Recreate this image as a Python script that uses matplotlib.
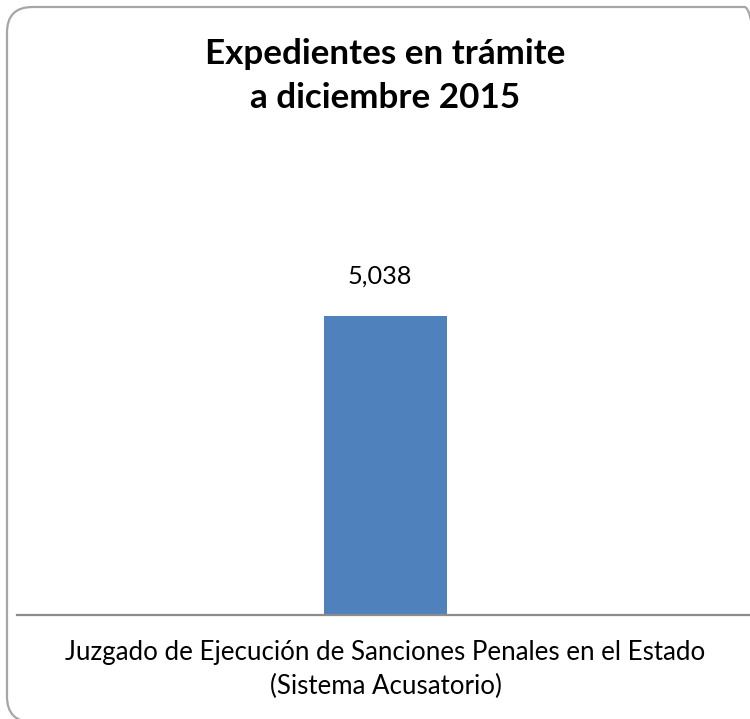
import matplotlib
matplotlib.use("Agg")
import matplotlib.pyplot as plt
from matplotlib.patches import FancyBboxPatch

categories = ["Juzgado de Ejecución de Sanciones Penales en el Estado\n(Sistema Acusatorio)"]
values = [5038]
value_labels = ["5,038"]
title = "Expedientes en trámite\na diciembre 2015"

W, H = 750, 719
fig = plt.figure(figsize=(W / 100, H / 100), dpi=100)
plt.rcParams['font.family'] = ['Lato', 'DejaVu Sans']

# rounded border
box = FancyBboxPatch((7 / W, 1 - 722 / H), (770 - 7) / W, (722 - 7) / H,
                     boxstyle="round,pad=0,rounding_size=0.034",
                     transform=fig.transFigure, facecolor="none",
                     edgecolor="#a6a6a6", linewidth=1.6, mutation_aspect=W / H,
                     zorder=-1)
fig.patches.append(box)

ax = fig.add_axes([17 / W, 1 - 615 / H, 737 / W, 355.5 / H])
ax.set_facecolor("none")
bars = ax.bar(range(len(values)), values, width=0.167, color="#4f81bd", zorder=2)
ax.set_xlim(-0.5, len(values) - 0.5)
ax.set_ylim(0, 6000)
for s in ["left", "right", "top"]:
    ax.spines[s].set_visible(False)
ax.spines["bottom"].set_color("#8c8c8c")
ax.spines["bottom"].set_linewidth(1.6)
ax.set_yticks([])
ax.set_xticks(range(len(categories)))
ax.set_xticklabels(categories, fontsize=18.6, linespacing=1.42)
ax.tick_params(axis="x", length=0, pad=18)

for i, (v, lab) in enumerate(zip(values, value_labels)):
    ax.annotate(lab, (i, v), xytext=(-4, 29), textcoords="offset points",
                ha="center", va="center", fontsize=18.2)

fig.text(385 / W, 1 - 76 / H, title, ha="center", va="center",
         fontsize=25.2, fontweight="bold", linespacing=1.47)

fig.savefig("out.png", dpi=100)
